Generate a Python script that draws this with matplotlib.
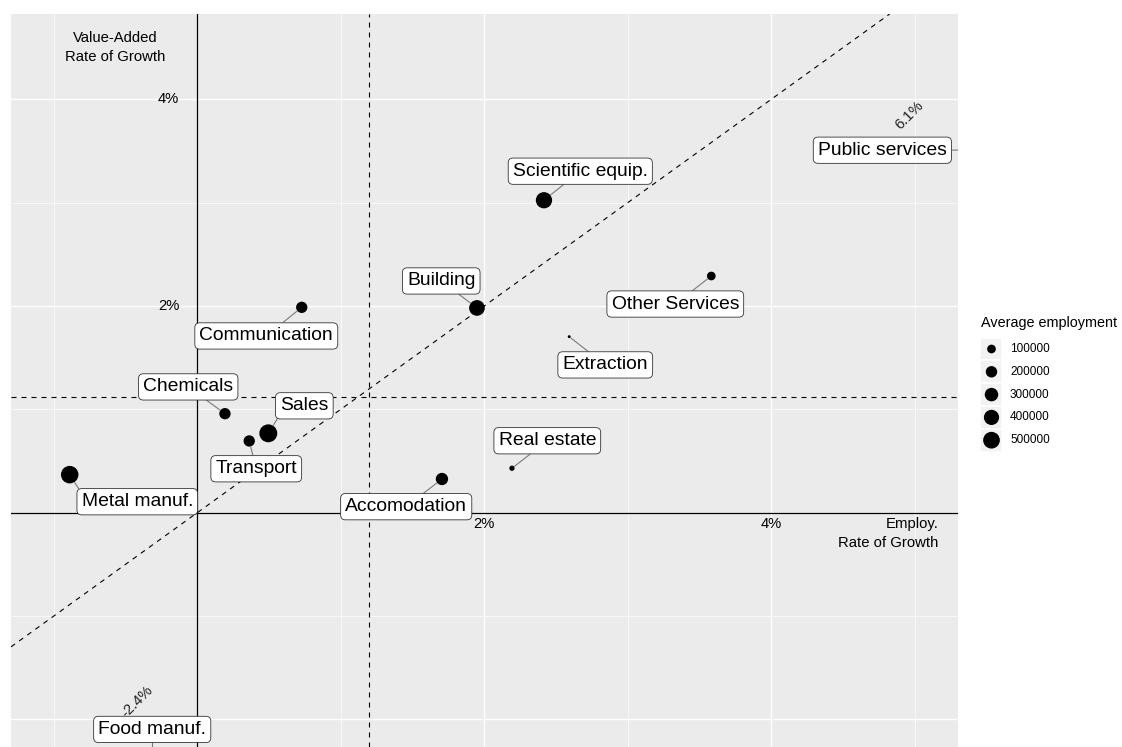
import matplotlib
matplotlib.use("Agg")
import matplotlib.pyplot as plt
import numpy as np
from matplotlib.patches import Rectangle

plt.rcParams['font.family'] = ['Liberation Sans', 'DejaVu Sans']

# ---------------- data ----------------
sectors = ["Communication", "Chemicals", "Sales", "Transport", "Metal manuf.",
           "Accomodation", "Real estate", "Building", "Scientific equip.",
           "Other Services", "Extraction", "Public services", "Food manuf."]
emp_growth = [0.728, 0.193, 0.495, 0.362, -0.889, 1.705, 2.193, 1.949, 2.416,
              3.582, 2.592, 6.1, -0.31]
va_growth = [1.987, 0.958, 0.768, 0.694, 0.368, 0.326, 0.430, 1.981, 3.023,
             2.290, 1.703, 3.51, -2.4]
avg_employment = [195000, 195000, 590000, 195000, 560000, 240000, 29000,
                  430000, 470000, 100000, 15000, 700000, 400000]

avg_emp_growth = 1.20
avg_va_growth = 1.118

legend_values = [100000, 200000, 300000, 400000, 500000]
x_tick_values = [2, 4]
y_tick_values = [2, 4]
offplot_notes = ["6.1%", "-2.4%"]

# label box centres (layout, data coords)
label_x = [0.481, -0.063, 0.746, 0.411, -0.418, 1.456, 2.439, 1.700, 2.669,
           3.331, 2.843, 4.774, -0.314]
label_y = [1.710, 1.217, 1.034, 0.425, 0.106, 0.058, 0.696, 2.242, 3.304,
           2.019, 1.430, 3.507, -2.097]
# where the connector leaves the box (relative box position)
label_anchor = [(0.5, 0.5), (0.5, 0.5), (0.0, 0.0), (0.5, 0.5), (0.0, 1.0),
                (0.5, 0.5), (0.5, 0.5), (0.5, 0.5), (0.5, 0.5), (0.5, 0.5),
                (0.5, 0.5), (0.5, 0.5), (0.5, 0.5)]

# ---------------- figure ----------------
W, H, DPI = 1122, 747, 100
fig = plt.figure(figsize=(W / DPI, H / DPI), dpi=DPI)
ax = fig.add_axes([11 / W, 0, (957.7 - 11) / W, 733 / H])
ax.set_facecolor('#EBEBEB')
for s in ax.spines.values():
    s.set_visible(False)
ax.set_xticks([-2, 0, 2, 4])
ax.set_xticks([-1, 1, 3, 5], minor=True)
ax.set_yticks([-2, 0, 2, 4])
ax.set_yticks([-1, 1, 3], minor=True)
ax.set_xlim(-1.298, 5.299)
ax.set_ylim(-2.267, 4.825)
ax.tick_params(which='both', length=0, labelbottom=False, labelleft=False)
ax.grid(which='major', color='white', lw=1.0)
ax.grid(which='minor', color='white', lw=0.5)
ax.set_axisbelow(True)

vmin = min(avg_employment)


def dia_px(v):
    return 2.94 + 0.01976 * np.sqrt(np.maximum(np.asarray(v, float) - vmin, 0))


def msize(v):
    return (dia_px(v) * 72 / DPI) ** 2


# reference lines
ax.axhline(0, color='black', lw=0.9, zorder=2)
ax.axvline(0, color='black', lw=0.9, zorder=2)
dash = (0, (4.5, 4.5))
ax.axhline(avg_va_growth, color='black', lw=0.8, ls=dash, zorder=2)
ax.axvline(avg_emp_growth, color='black', lw=0.8, ls=dash, zorder=2)
ax.axline((0, 0), slope=1, color='black', lw=0.8, ls=dash, zorder=2)

# points
ax.scatter(emp_growth, va_growth, s=msize(avg_employment), c='black',
           edgecolors='none', zorder=3)

# labels with segments
for name, x, y, v, lx, ly, rp in zip(sectors, emp_growth, va_growth,
                                      avg_employment, label_x, label_y,
                                      label_anchor):
    r_pt = dia_px(v) * 72 / DPI / 2
    ann = ax.annotate(name, xy=(x, y), xytext=(lx, ly), ha='center', va='center',
                      fontsize=13.9, zorder=5, annotation_clip=False,
                      bbox=dict(boxstyle='round,pad=0.24,rounding_size=0.25',
                                fc='white', ec='#333333', lw=0.6),
                      arrowprops=dict(arrowstyle='-', color='#7a7a7a', lw=0.8,
                                      relpos=rp, shrinkA=0,
                                      shrinkB=r_pt + 0.4))
    ann.arrow_patch.set_clip_box(ax.bbox)
    ann.arrow_patch.set_zorder(4)

# tick labels (inside panel)
for t in y_tick_values:
    ax.annotate(f"{t}%", xy=(0, t), xytext=(-13, 0), textcoords='offset points',
                ha='right', va='center', fontsize=10.6)
for t in x_tick_values:
    ax.annotate(f"{t}%", xy=(t, 0), xytext=(0, -8.2), textcoords='offset points',
                ha='center', va='center', fontsize=10.6)

ax.text(-0.574, 4.497, "Value-Added\nRate of Growth", ha='center', va='center',
        fontsize=10.7, linespacing=1.45)
ax.text(5.165, -0.201, "Employ.\nRate of Growth", ha='right', va='center',
        multialignment='right', fontsize=10.7, linespacing=1.45)

# notes for off-plot points
ax.text(4.962, 3.845, offplot_notes[0], rotation=45, ha='center', va='center',
        fontsize=10.6, color='#222222')
ax.text(-0.418, -1.826, offplot_notes[1], rotation=45, ha='center', va='center',
        fontsize=10.6, color='#222222')

# ---------------- legend (manual, pixel coords) ----------------
lax = fig.add_axes([0, 0, 1, 1], zorder=10)
lax.set_xlim(0, W)
lax.set_ylim(H, 0)
lax.axis('off')
lax.text(981, 323, "Average employment", ha='left', va='center', fontsize=10.4)
row_h = 22.8
y0 = 349
for i, v in enumerate(legend_values):
    yc = y0 + i * row_h
    lax.add_patch(Rectangle((980.5, yc - row_h / 2), 22, row_h, fc='#F2F2F2',
                            ec='white', lw=1.2))
    lax.scatter([991.5], [yc], s=msize(v), c='black', edgecolors='none', zorder=3)
    lax.text(1010, yc, f"{v}", ha='left', va='center', fontsize=8.5)

fig.savefig("out.png", dpi=DPI)
